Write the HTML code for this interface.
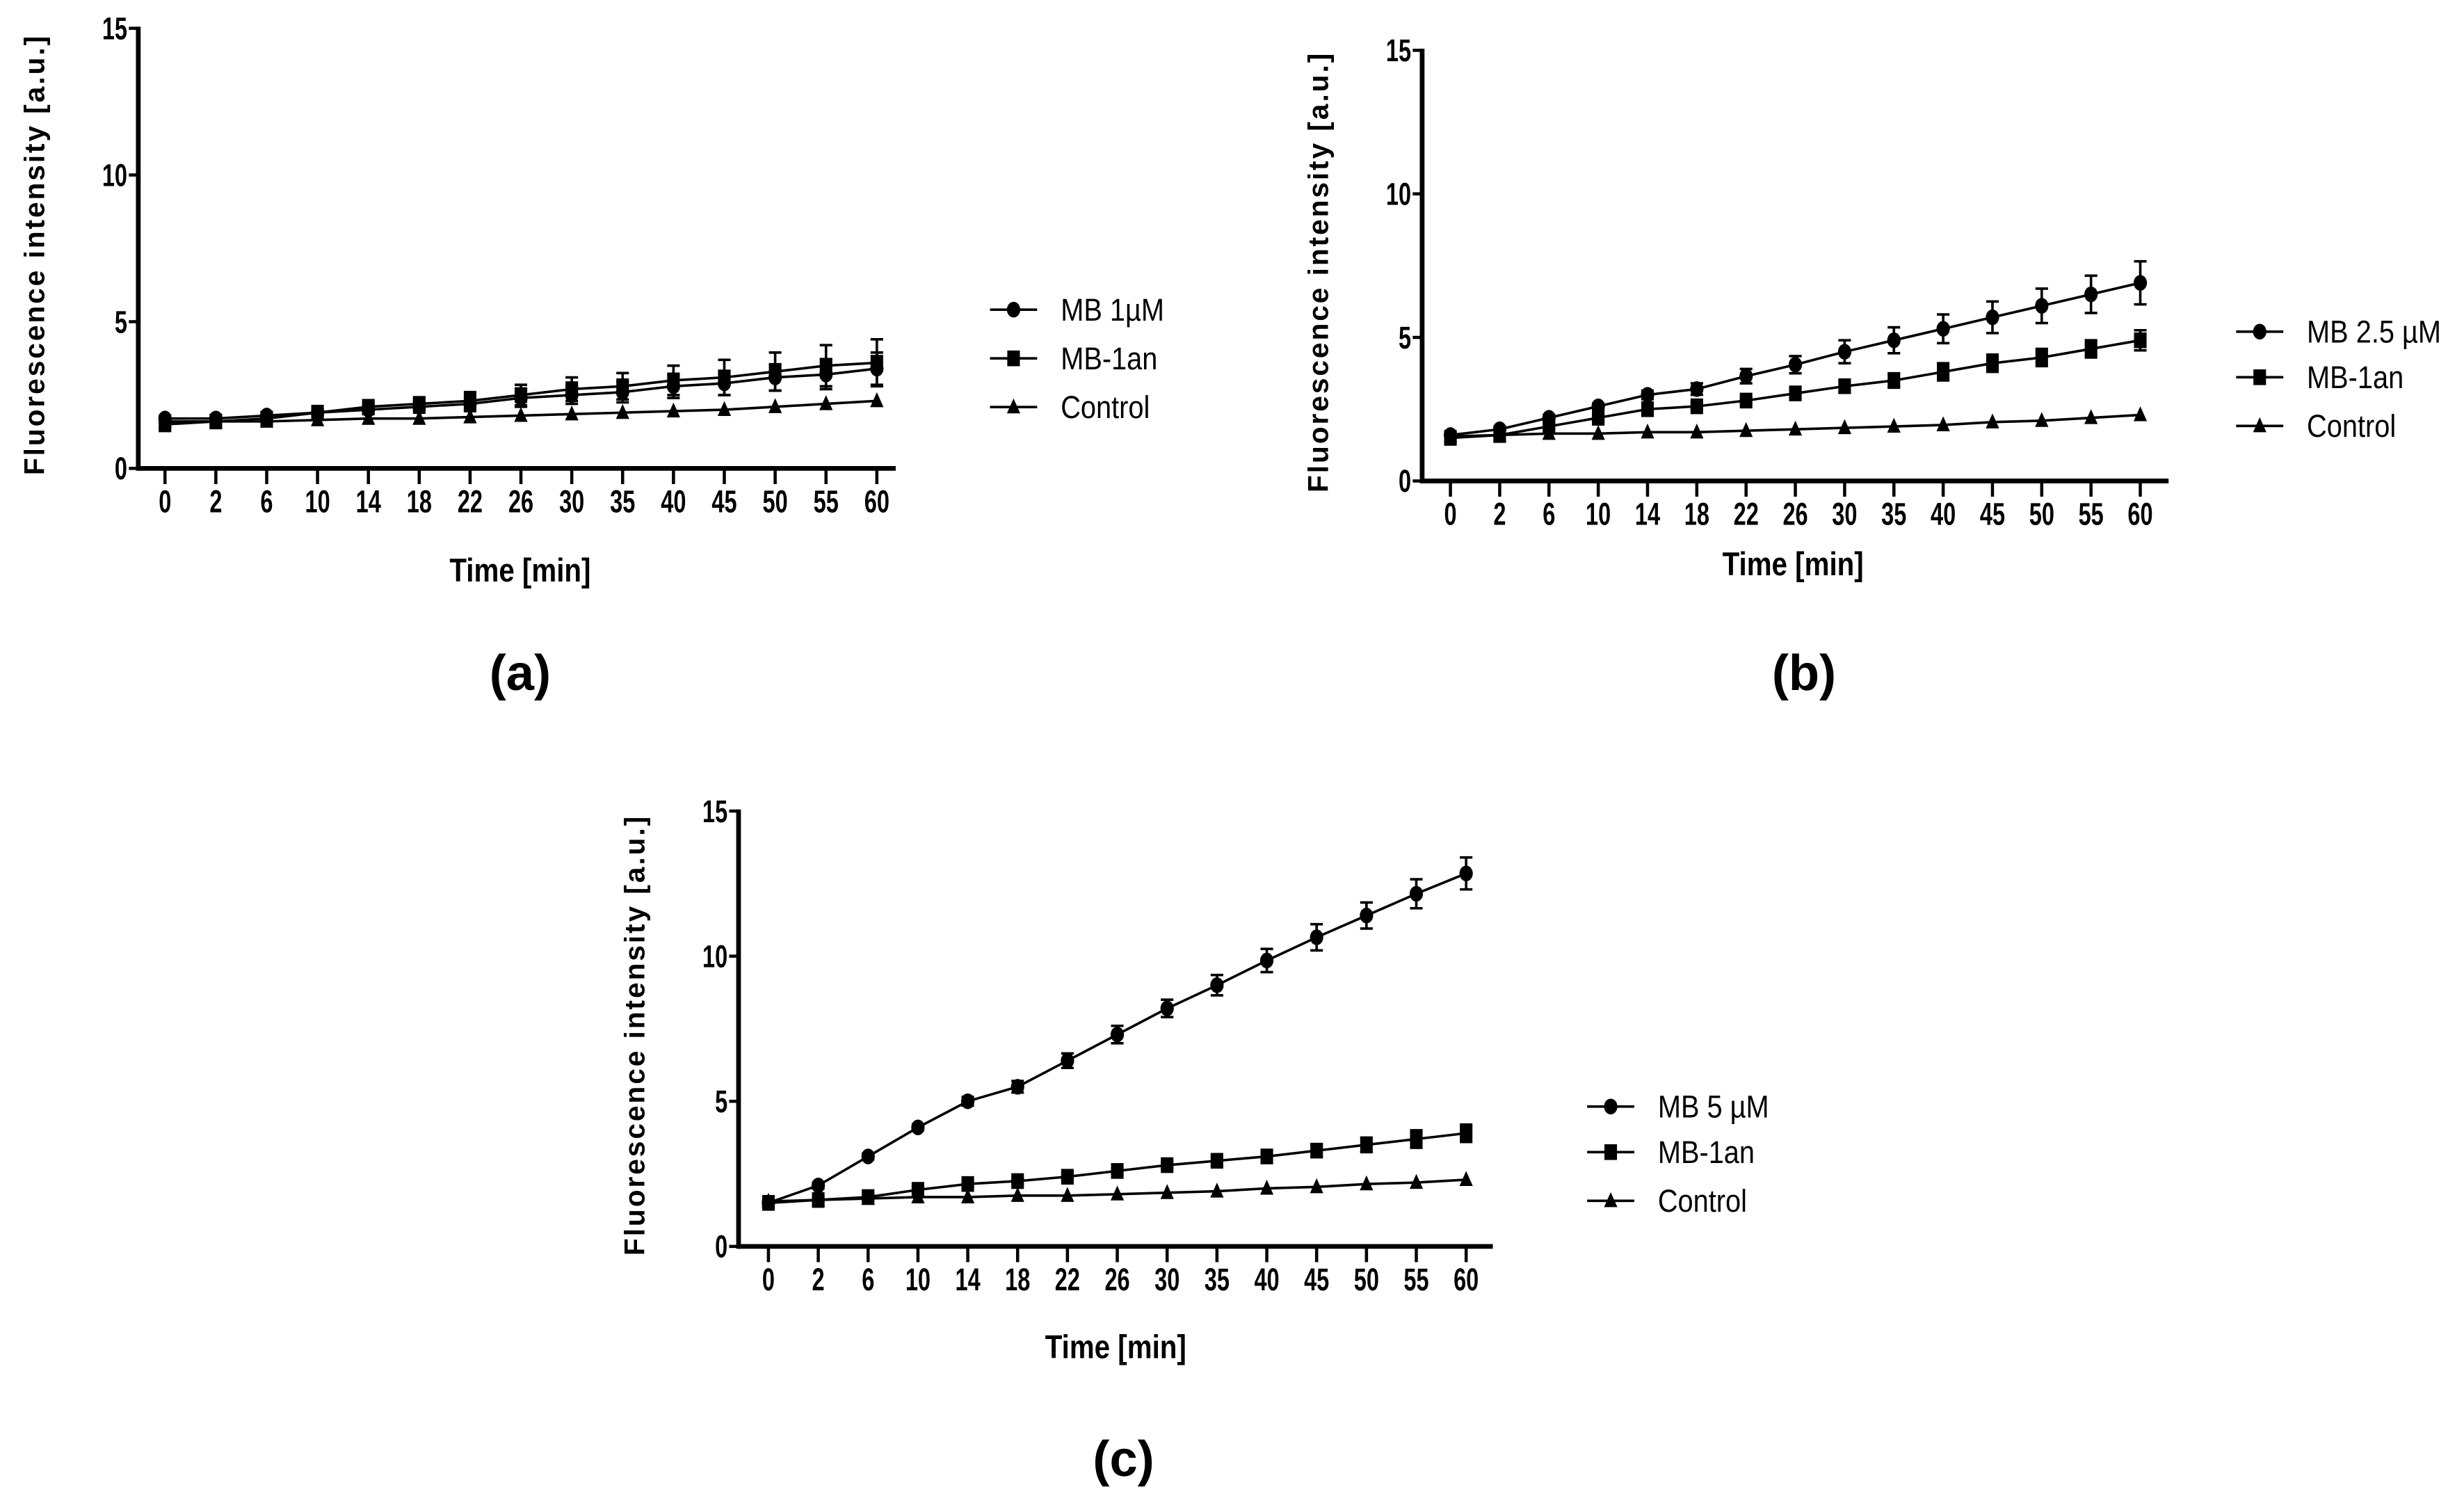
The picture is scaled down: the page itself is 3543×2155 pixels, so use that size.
<!DOCTYPE html>
<html><head><meta charset="utf-8"><style>html,body{margin:0;padding:0;background:#fff}svg{display:block}</style></head>
<body>
<svg id="fig" xmlns="http://www.w3.org/2000/svg" width="3543" height="2155" viewBox="0 0 1568 953.7" preserveAspectRatio="none"></svg>
<script>
const categories = ["0","2","6","10","14","18","22","26","30","35","40","45","50","55","60"];
const yTicks = [0,5,10,15];
// panel a
const aMB = [1.7,1.7,1.8,1.9,2.0,2.1,2.2,2.4,2.5,2.6,2.8,2.9,3.1,3.2,3.4];
const aMBErr = [0.1,0.1,0.1,0.1,0.15,0.2,0.25,0.3,0.3,0.35,0.4,0.4,0.45,0.5,0.55];
const aAn = [1.5,1.6,1.7,1.9,2.1,2.2,2.3,2.5,2.7,2.8,3.0,3.1,3.3,3.5,3.6];
const aAnErr = [0.1,0.1,0.1,0.1,0.15,0.2,0.3,0.35,0.4,0.45,0.5,0.6,0.65,0.7,0.8];
const aCtl = [1.6,1.6,1.6,1.65,1.7,1.7,1.75,1.8,1.85,1.9,1.95,2.0,2.1,2.2,2.3];
// panel b
const bMB = [1.6,1.8,2.2,2.6,3.0,3.2,3.65,4.05,4.5,4.9,5.3,5.7,6.1,6.5,6.9];
const bMBErr = [0.1,0.1,0.1,0.1,0.15,0.2,0.25,0.3,0.4,0.45,0.5,0.55,0.6,0.65,0.75];
const bAn = [1.5,1.6,1.9,2.2,2.5,2.6,2.8,3.05,3.3,3.5,3.8,4.1,4.3,4.6,4.9];
const bAnErr = [0.1,0.1,0.1,0.1,0.1,0.1,0.1,0.15,0.2,0.25,0.3,0.3,0.3,0.3,0.35];
const bCtl = [1.55,1.6,1.65,1.65,1.7,1.7,1.75,1.8,1.85,1.9,1.95,2.05,2.1,2.2,2.3];
// panel c
const cMB = [1.5,2.1,3.1,4.1,5.0,5.5,6.4,7.3,8.2,9.0,9.85,10.65,11.4,12.15,12.85];
const cMBErr = [0.1,0.1,0.1,0.1,0.15,0.2,0.25,0.3,0.3,0.35,0.4,0.45,0.45,0.5,0.55];
const cAn = [1.5,1.6,1.7,1.95,2.15,2.25,2.4,2.6,2.8,2.95,3.1,3.3,3.5,3.7,3.9];
const cAnErr = [0.1,0.1,0.1,0.1,0.1,0.1,0.1,0.1,0.1,0.15,0.2,0.2,0.25,0.3,0.3];
const cCtl = [1.55,1.6,1.65,1.7,1.7,1.75,1.75,1.8,1.85,1.9,2.0,2.05,2.15,2.2,2.3];

const NS = "http://www.w3.org/2000/svg";
const svg = document.getElementById('fig');
function mk(tag, attrs, parent, txt){
  const e = document.createElementNS(NS, tag);
  for (const k in attrs) e.setAttribute(k, attrs[k]);
  if (txt !== undefined) e.textContent = txt;
  (parent || svg).appendChild(e);
  return e;
}
function marker(g, type, x, y, s){
  let e;
  if (type === 'circle') e = mk('ellipse', {cx:x, cy:y, rx:s*0.85, ry:s, fill:'#000'}, g);
  else if (type === 'square') e = mk('rect', {x:x-s*0.8, y:y-s, width:s*1.6, height:s*2, fill:'#000'}, g);
  else e = mk('polygon', {points:`${x},${y-s*1.1} ${x-s*0.85},${y+s*0.8} ${x+s*0.85},${y+s*0.8}`, fill:'#000'}, g);
  return e;
}
function sx(x, k){ return `translate(${x} 0) scale(${k} 1) translate(${-x} 0)`; }
function panel(p){
  const g = mk('g', {});
  
  
  const yS = v => p.y0 + (p.y15 - p.y0) * v / 15;
  const xS = i => p.x0 + (p.x60 - p.x0) * i / (categories.length - 1);
  const ya = mk('line', {x1:p.ax, y1:p.y15-1, x2:p.ax, y2:p.y0+1.5, stroke:'#000','stroke-width':3}, g);
   
  const xa = mk('line', {x1:p.ax, y1:p.y0, x2:p.xEnd, y2:p.y0, stroke:'#000','stroke-width':3}, g);
   
  yTicks.forEach(t => {
    mk('line', {x1:p.ax-6, y1:yS(t), x2:p.ax, y2:yS(t), stroke:'#000','stroke-width':2}, g);
    const tl = mk('text', {x:p.ax-7, y:yS(t)+7, 'text-anchor':'end', 'font-family':'Liberation Sans, sans-serif', 'font-weight':'bold', 'font-size':20, transform:sx(p.ax-7, 0.72)}, g, String(t));
     
  });
  categories.forEach((c, i) => {
    const x = xS(i);
    mk('line', {x1:x, y1:p.y0, x2:x, y2:p.y0+10, stroke:'#000','stroke-width':2}, g);
    const tl = mk('text', {x:x, y:p.y0+28, 'text-anchor':'middle', 'font-family':'Liberation Sans, sans-serif', 'font-weight':'bold', 'font-size':20, transform:sx(x, 0.72)}, g, c);
     
  });
  const xt = mk('text', {x:p.tx, y:p.ty, 'text-anchor':'middle', 'font-family':'Liberation Sans, sans-serif', 'font-weight':'bold', 'font-size':21, transform:sx(p.tx, 0.85)}, g, 'Time [min]');
   
  const yx = p.ax - 60, yc = (p.y0 + p.y15) / 2 + 4;
  const yt = mk('text', {x:yx, y:yc, 'text-anchor':'middle', 'font-family':'Liberation Sans, sans-serif', 'font-weight':'bold', 'font-size':18, 'letter-spacing':1.3, transform:`rotate(-90 ${yx} ${yc})`}, g, 'Fluorescence intensity [a.u.]');
   
  const pl = mk('text', {x:p.lx, y:p.ly, 'text-anchor':'middle', 'font-family':'Liberation Sans, sans-serif', 'font-weight':'bold', 'font-size':32}, g, p.label);
   
  p.series.forEach((s, si) => {
    const sg = mk('g', {}, g);
    
    
    const pts = s.vals.map((v, i) => `${xS(i)},${yS(v)}`).join(' ');
    const ln = mk('polyline', {points:pts, fill:'none', stroke:'#000', 'stroke-width':1.6}, sg);
     
    s.vals.forEach((v, i) => {
      const x = xS(i);
      if (s.err) {
        const e = s.err[i];
        const eb = mk('path', {d:`M${x},${yS(v+e)}V${yS(v-e)}M${x-4},${yS(v+e)}H${x+4}M${x-4},${yS(v-e)}H${x+4}`, stroke:'#000','stroke-width':1.6, fill:'none'}, sg);
         
      }
      const m = marker(sg, s.type, x, yS(v), 5);
       
    });
    const ly = p.legY[si];
    const lg = mk('g', {}, g);
     
    mk('line', {x1:p.legX, y1:ly, x2:p.legX+30, y2:ly, stroke:'#000','stroke-width':1.6}, lg);
    marker(lg, s.type, p.legX+15, ly, 5);
    mk('text', {x:p.legX+45, y:ly+7, 'font-family':'Liberation Sans, sans-serif', 'font-size':20, transform:sx(p.legX+45, 0.88)}, lg, s.name);
  });
}
panel({id:'a', label:'(a)', ax:88, xEnd:570, y0:298, y15:18, x0:105, x60:558, tx:331, ty:370, lx:331, ly:439, legX:630, legY:[197,228,259],
  series:[{key:'mb-1um', name:'MB 1\u00b5M', type:'circle', vals:aMB, err:aMBErr},
          {key:'mb-1an', name:'MB-1an', type:'square', vals:aAn, err:aAnErr},
          {key:'control', name:'Control', type:'triangle', vals:aCtl}]});
panel({id:'b', label:'(b)', ax:905, xEnd:1380, y0:306, y15:32, x0:923, x60:1362, tx:1141, ty:366, lx:1148, ly:439, legX:1423, legY:[211,240,271],
  series:[{key:'mb-2-5um', name:'MB 2.5 \u00b5M', type:'circle', vals:bMB, err:bMBErr},
          {key:'mb-1an', name:'MB-1an', type:'square', vals:bAn, err:bAnErr},
          {key:'control', name:'Control', type:'triangle', vals:bCtl}]});
panel({id:'c', label:'(c)', ax:470, xEnd:950, y0:793, y15:516, x0:489, x60:933, tx:710, ty:864, lx:715, ly:939, legX:1010, legY:[704,733,764],
  series:[{key:'mb-5um', name:'MB 5 \u00b5M', type:'circle', vals:cMB, err:cMBErr},
          {key:'mb-1an', name:'MB-1an', type:'square', vals:cAn, err:cAnErr},
          {key:'control', name:'Control', type:'triangle', vals:cCtl}]});
</script>
</body></html>
